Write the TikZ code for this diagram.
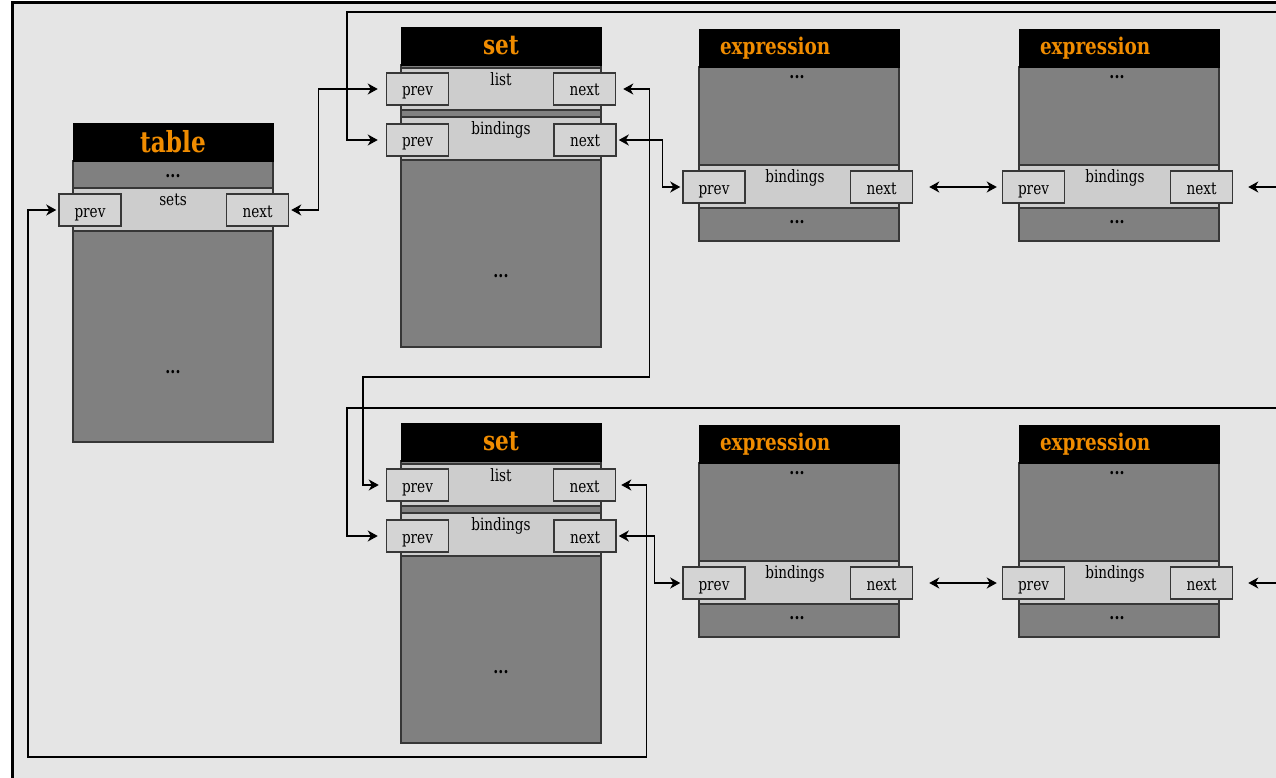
\documentclass[tikz,border=0pt]{standalone}
\usepackage{fontspec}
\setmainfont{DejaVu Serif}[FakeStretch=0.8]
\usepackage{tikz}
\usetikzlibrary{arrows.meta,calc,positioning}
\definecolor{hg}{RGB}{229,229,229}
\definecolor{grau}{RGB}{128,128,128}
\definecolor{band}{RGB}{205,205,205}
\definecolor{kasten}{RGB}{212,212,212}
\definecolor{rand}{RGB}{55,55,55}
\definecolor{titel}{RGB}{240,140,0}

\begin{document}
\begin{tikzpicture}[
  x=1pt, y=-1pt,
  font=\fontsize{17}{20}\selectfont,
  pfeil/.style={{Stealth[length=10pt,width=11pt,inset=3pt]}-{Stealth[length=10pt,width=11pt,inset=3pt]},
                line width=1.4pt, shorten <=2pt, shorten >=2pt},
  kopf/.style={fill=black, draw=black, minimum width=200pt, minimum height=38pt,
               inner sep=0pt, text=titel},
  zeiger/.style={draw=rand, fill=kasten, line width=1.5pt, minimum width=62pt,
                 minimum height=32pt, inner sep=0pt, text height=14pt, text depth=0pt},
  koerper/.style={draw=rand, fill=grau, line width=1.5pt},
  feld/.style={draw=rand, fill=band, line width=1.2pt},
  punkte/.style={font=\fontsize{18}{20}\selectfont\bfseries}
]
\useasboundingbox (0,0) rectangle (1276,778);

% ---------- Hintergrund ------------------------------------------
\fill[hg] (12,3) rectangle (1290,790);
\draw[line width=3pt] (12,790) -- (12,3) -- (1290,3);

% ---------- table ------------------------------------------------
\draw[koerper] (73,161) rectangle (273,442);
\node[kopf, font=\fontsize{29}{32}\selectfont\bfseries] (t-kopf) at (173,142) {table};
\node[punkte] (t-dots1) at (173,176) {...};
\draw[feld] (73,188) rectangle (273,231);
\node[anchor=north] (t-sets) at (173,190) {sets};
\node[zeiger] (t-prev) at (90,210) {prev};
\node[zeiger] (t-next) at (257.5,210) {next};
\node[punkte] (t-dots2) at (173,372) {...};

% ---------- set und expressions, zwei Reihen ---------------------
\foreach \r/\dy/\bx in {1/0/46, 2/396/38} {
  % set
  \draw[koerper] (401,65+\dy) rectangle (601,347+\dy);
  \node[kopf, font=\fontsize{27}{30}\selectfont\bfseries] (s\r-kopf) at (501,46+\dy) {set};
  \draw[feld] (401,68+\dy) rectangle (601,110+\dy);
  \draw[feld] (401,117+\dy) rectangle (601,160+\dy);
  \node[anchor=north] (s\r-list) at (501,69+\dy) {list};
  \node[anchor=north] (s\r-bind) at (501,118+\dy) {bindings};
  \node[zeiger] (s\r-lprev) at (417.5,89+\dy) {prev};
  \node[zeiger] (s\r-lnext) at (584.5,89+\dy) {next};
  \node[zeiger] (s\r-bprev) at (417.5,140+\dy) {prev};
  \node[zeiger] (s\r-bnext) at (585,140+\dy) {next};
  \node[punkte] (s\r-dots) at (501,276+\dy) {...};

  % expression 1
  \draw[koerper] (699,67+\dy) rectangle (899,241+\dy);
  \node[kopf, font=\fontsize{23}{26}\selectfont\bfseries, text width=158pt, align=left]
    (e\r1-kopf) at (799,48+\dy) {expression};
  \node[punkte] (e\r1-dots1) at (797,77+\dy) {...};
  \draw[feld] (699,165+\dy) rectangle (899,208+\dy);
  \node[anchor=north] (e\r1-bind) at (795,166+\dy) {bindings};
  \node[zeiger] (e\r1-prev) at (714,187+\dy) {prev};
  \node[zeiger] (e\r1-next) at (881.5,187+\dy) {next};
  \node[punkte] (e\r1-dots2) at (797,222+\dy) {...};

  % expression 2
  \draw[koerper] (1019,67+\dy) rectangle (1219,241+\dy);
  \node[kopf, font=\fontsize{23}{26}\selectfont\bfseries, text width=158pt, align=left]
    (e\r2-kopf) at (1119,48+\dy) {expression};
  \node[punkte] (e\r2-dots1) at (1117,77+\dy) {...};
  \draw[feld] (1019,165+\dy) rectangle (1219,208+\dy);
  \node[anchor=north] (e\r2-bind) at (1115,166+\dy) {bindings};
  \node[zeiger] (e\r2-prev) at (1033.5,187+\dy) {prev};
  \node[zeiger] (e\r2-next) at (1201.5,187+\dy) {next};
  \node[punkte] (e\r2-dots2) at (1117,222+\dy) {...};

  % Verbindungen der Reihe
  \draw[pfeil] (s\r-bnext.east) -- ++(\bx,0) |- (e\r1-prev.west);
  \draw[pfeil, shorten <=16pt, shorten >=5pt] (e\r1-next.east) -- (e\r2-prev.west);
  \draw[pfeil, shorten <=15pt, shorten >=8pt]
    (e\r2-next.east) -- ++(43,0) |- (347,12+\dy) |- (s\r-bprev.west);
}

% ---------- list-Verkettung --------------------------------------
\draw[pfeil, shorten >=8pt] (t-next.east) -- ++(29,0) |- (s1-lprev.west);
\draw[pfeil, shorten <=7pt, shorten >=7pt]
  (s1-lnext.east) -- ++(33,0) |- (363,377) |- (s2-lprev.west);
\draw[pfeil, shorten <=5pt] (s2-lnext.east) -- ++(30,0) |- (28,757) |- (t-prev.west);

\end{tikzpicture}
\end{document}
